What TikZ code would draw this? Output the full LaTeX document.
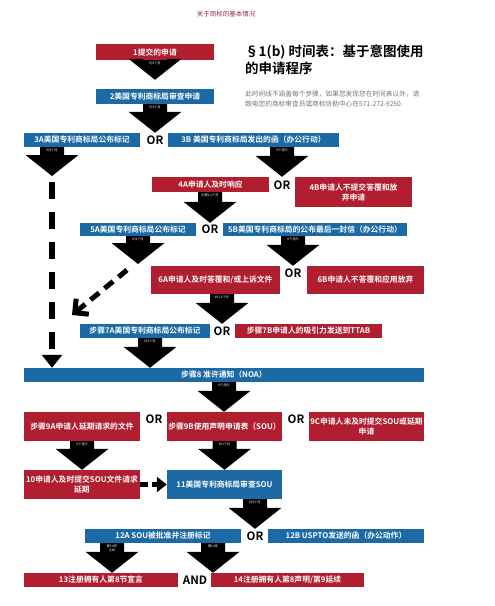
\documentclass[tikz,border=0pt]{standalone}
\usepackage{fontspec}
\setmainfont{Noto Sans CJK SC}[BoldFont={Noto Sans CJK SC Bold}]
\usetikzlibrary{calc, arrows.meta}
\definecolor{tmred}{HTML}{B01E2F}
\definecolor{tmblue}{HTML}{1B6AA5}
\definecolor{tmtitle}{HTML}{8E2A4A}
\tikzset{
	x=1pt, y=-1pt, % pixel grid of the chart, y runs downwards
	box/.style={inner sep=1pt, text=white, align=center, font=\fontsize{7.8}{10}\selectfont\bfseries}, % every step box
	redbox/.style={box, fill=tmred}, % applicant side
	bluebox/.style={box, fill=tmblue}, % office side
	choice/.style={inner sep=0pt, font=\fontsize{11.5}{12}\selectfont\bfseries}, % OR / AND between boxes
	steplabel/.style={inner sep=0pt, text=white, align=center, font=\fontsize{3.2}{3.6}\selectfont}, % time on a fat arrow
	bypass/.style={line width=5.5pt, dash pattern=on 17pt off 13pt}, % long dashed shortcut
}
% fat black arrow: #1 name of its time label, #2 start, #3 point reached, #4 time
\newcommand{\fatarrow}[4]{%
	\fill let \p1=#2, \p2=#3 in
		(\x1-12pt,\y1) -- (\x1+12pt,\y1) -- (\x1+12pt,\y2+21pt) -- (\x1+26.5pt,\y2+21pt)
		-- (\x1,\y2) -- (\x1-26.5pt,\y2+21pt) -- (\x1-12pt,\y2+21pt) -- cycle;
	\node[steplabel, below=1.5pt] (#1) at #2 {#4};
}

\begin{document}
\begin{tikzpicture}
	\useasboundingbox (0,0) rectangle (495,606);

	\node[text=tmtitle, font=\fontsize{6.5}{7}\selectfont] (title) at (226,14) {关于商标的基本情况};
	\node[anchor=north west, inner sep=0pt, align=left, font=\fontsize{13.5}{16.5}\selectfont\bfseries] (head) at (245,45)
		{§1(b) 时间表：基于意图使用\\的申请程序};
	\node[anchor=north west, inner sep=0pt, align=left, text=black!55, font=\fontsize{6.7}{10}\selectfont] (note) at (245,91)
		{此时间线不涵盖每个步骤，如果您发现您在时间表以外，请\\致电您的商标审查员或商标协助中心在571-272-9250.};

	% steps
	\node[redbox, minimum width=118, minimum height=16] (b1) at (155,52) {1提交的申请};
	\node[bluebox, minimum width=118, minimum height=15] (b2) at (155,96.5) {2美国专利商标局审查申请};
	\node[bluebox, minimum width=116, minimum height=14] (b3a) at (82,140) {3A美国专利商标局公布标记};
	\node[choice] (or3) at (155,140) {OR};
	\node[bluebox, minimum width=171, minimum height=14] (b3b) at (253.5,140) {3B 美国专利商标局发出的函（办公行动）};
	\node[redbox, minimum width=117, minimum height=15] (b4a) at (210.5,184.5) {4A申请人及时响应};
	\node[choice] (or4) at (282,185) {OR};
	\node[redbox, minimum width=117, minimum height=30] (b4b) at (353.5,192) {4B申请人不提交答覆和放\\弃申请};
	\node[bluebox, minimum width=116, minimum height=13] (b5a) at (138,229.5) {5A美国专利商标局公布标记};
	\node[choice] (or5) at (210,229.5) {OR};
	\node[bluebox, minimum width=184, minimum height=13] (b5b) at (315,229.5) {5B美国专利商标局的公布最后一封信（办公行动）};
	\node[redbox, minimum width=129, minimum height=28] (b6a) at (215.5,280) {6A申请人及时答覆和/或上诉文件};
	\node[choice] (or6) at (293,273) {OR};
	\node[redbox, minimum width=117, minimum height=28] (b6b) at (365.5,280) {6B申请人不答覆和应用放弃};
	\node[bluebox, minimum width=130, minimum height=14] (b7a) at (145,331) {步骤7A美国专利商标局公布标记};
	\node[choice] (or7) at (222,331) {OR};
	\node[redbox, minimum width=147, minimum height=14] (b7b) at (308.5,331) {步骤7B申请人的吸引力发送到TTAB};
	\node[bluebox, minimum width=400, minimum height=14] (b8) at (224,375) {步骤8 准许通知（NOA）};
	\node[redbox, minimum width=116, minimum height=29] (b9a) at (82,426.5) {步骤9A申请人延期请求的文件};
	\node[choice] (or9a) at (154,419) {OR};
	\node[redbox, minimum width=115, minimum height=29] (b9b) at (224.5,426.5) {步骤9B使用声明申请表（SOU）};
	\node[choice] (or9b) at (296,419) {OR};
	\node[redbox, minimum width=115, minimum height=29] (b9c) at (366.5,426.5) {9C申请人未及时提交SOU或延期\\申请};
	\node[redbox, minimum width=116, minimum height=29] (b10) at (82,484.5) {10申请人及时提交SOU文件请求\\延期};
	\node[bluebox, minimum width=115, minimum height=29] (b11) at (224.5,484.5) {11美国专利商标局审查SOU};
	\node[bluebox, minimum width=156, minimum height=14] (b12a) at (163,536) {12A SOU被批准并注册标记};
	\node[choice] (or12) at (255,536) {OR};
	\node[bluebox, minimum width=156, minimum height=14] (b12b) at (346,536) {12B USPTO发送的函（办公动作）};
	\node[redbox, minimum width=154, minimum height=14] (b13) at (101,580) {13注册拥有人第8节宣言};
	\node[choice] (and13) at (195,580) {AND};
	\node[redbox, minimum width=153, minimum height=14] (b14) at (287.5,580) {14注册拥有人第8声明/第9延续};

	% free ends and shifted starts
	\coordinate (top2) at ($(b2.north)+(0,-9)$);
	\coordinate (d3a) at (52,176);
	\coordinate (s3a) at (d3a |- b3a.south);
	\coordinate (d5a) at (138,264);
	\coordinate (s7a) at ($(b7a.south)+(5,0)$);
	\coordinate (s12l) at ($(b12a.south)+(-51,0)$);
	\coordinate (s12r) at ($(b12a.south)+(50,0)$);

	\fatarrow{t1}{(b1.south)}{(top2)}{约3个月}
	\fatarrow{t2}{(b2.south)}{(or3 |- b3a.north)}{约3个月}
	\fatarrow{t3a}{(s3a)}{(d3a)}{约3个月}
	\fatarrow{t3b}{(or4 |- b3b.south)}{(or4 |- b4a.north)}{6个月内}
	\fatarrow{t4a}{(or5 |- b4a.south)}{(or5 |- b5a.north)}{约需1~2个月}
	\fatarrow{t5a}{(b5a.south)}{(d5a)}{约3个月}
	\fatarrow{t5b}{(or6 |- b5b.south)}{(or6 |- b6a.north)}{6个月内}
	\fatarrow{t6a}{(or7 |- b6a.south)}{(or7 |- b7a.north)}{约1~2个月}
	\fatarrow{t7a}{(s7a)}{(b8.north)}{约3个月}
	\fatarrow{t8}{(b8.south)}{(b9b.north)}{6个月内}
	\fatarrow{t9a}{(b9a.south)}{(b10.north)}{6个月内}
	\fatarrow{t9b}{(b9b.south)}{(b11.north)}{约3个月}
	\fatarrow{t11}{(or12 |- b11.south)}{(or12 |- b12a.north)}{约3个月}
	\fatarrow{t12l}{(s12l)}{(b13.north)}{第5~6年\\之间}
	\fatarrow{t12r}{(s12r)}{(b14.north)}{第10年}

	% dashed shortcuts
	\coordinate (v3a) at ($(d3a)+(0,6)$);
	\draw[bypass, -{Triangle[width=20pt,length=13pt]}] (v3a) -- (v3a |- b8.north);
	\coordinate (g5a) at (127,270);
	\coordinate (g6) at (72,315);
	\draw[line width=5pt, dash pattern=on 11pt off 7pt, -{Straight Barb[width=20pt,length=10pt]}] (g5a) -- (g6);
	\draw[line width=4.5pt, dash pattern=on 8pt off 4pt, -{Triangle[width=15pt,length=10pt]}] (b10) -- (b11);
\end{tikzpicture}
\end{document}
